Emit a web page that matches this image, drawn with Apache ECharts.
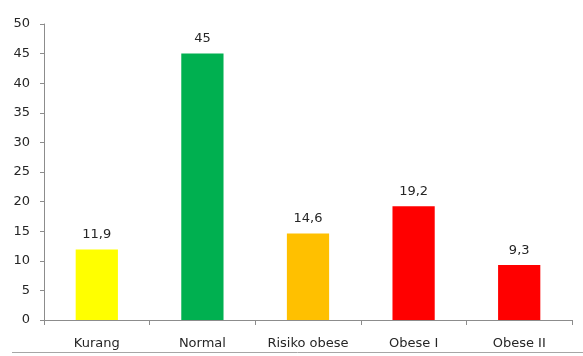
<!DOCTYPE html>
<html>
<head>
<meta charset="utf-8">
<script src="https://cdn.jsdelivr.net/npm/echarts@6/dist/echarts.min.js"></script>
<style>
  html, body { margin: 0; padding: 0; background: #fff; }
  #chart { width: 583px; height: 356px; }
</style>
</head>
<body>
<div id="chart"></div>
<script>
// Status categories and their percentages
const categories = ['Kurang', 'Normal', 'Risiko obese', 'Obese I', 'Obese II'];
const values = [11.9, 45, 14.6, 19.2, 9.3];
const barColors = ['#FFFF00', '#00B050', '#FFC000', '#FF0000', '#FF0000'];
const yTicks = { min: 0, max: 50, interval: 5 };

const fontFamily = '"DejaVu Sans", sans-serif';
const textColor = '#262626';
const axisColor = '#8c8c8c';

const chart = echarts.init(document.getElementById('chart'), null, { renderer: 'canvas' });

chart.setOption({
  animation: false,
  grid: { left: 44, right: 11, top: 24, bottom: 36, containLabel: false },
  xAxis: {
    type: 'category',
    data: categories,
    axisLine: { lineStyle: { color: axisColor, width: 1 } },
    axisTick: { show: true, length: 5, alignWithLabel: false, lineStyle: { color: axisColor } },
    axisLabel: { color: textColor, fontSize: 13, fontFamily: fontFamily, margin: 17, interval: 0 }
  },
  yAxis: {
    type: 'value',
    min: yTicks.min,
    max: yTicks.max,
    interval: yTicks.interval,
    splitLine: { show: false },
    axisLine: { show: true, lineStyle: { color: axisColor, width: 1 } },
    axisTick: { show: true, length: 4, lineStyle: { color: axisColor } },
    axisLabel: { color: textColor, fontSize: 13, fontFamily: fontFamily, margin: 14 }
  },
  series: [{
    type: 'bar',
    data: values.map((v, i) => ({ value: v, itemStyle: { color: barColors[i] } })),
    barWidth: '40%',
    label: {
      show: true,
      position: 'top',
      distance: 8,
      color: textColor,
      fontSize: 13,
      fontFamily: fontFamily,
      formatter: p => String(p.value).replace('.', ',')
    }
  }],
  graphic: [{
    type: 'line',
    shape: { x1: 12, y1: 352.5, x2: 583, y2: 352.5 },
    style: { stroke: '#a6a6a6', lineWidth: 1 }
  }]
});
</script>
</body>
</html>
